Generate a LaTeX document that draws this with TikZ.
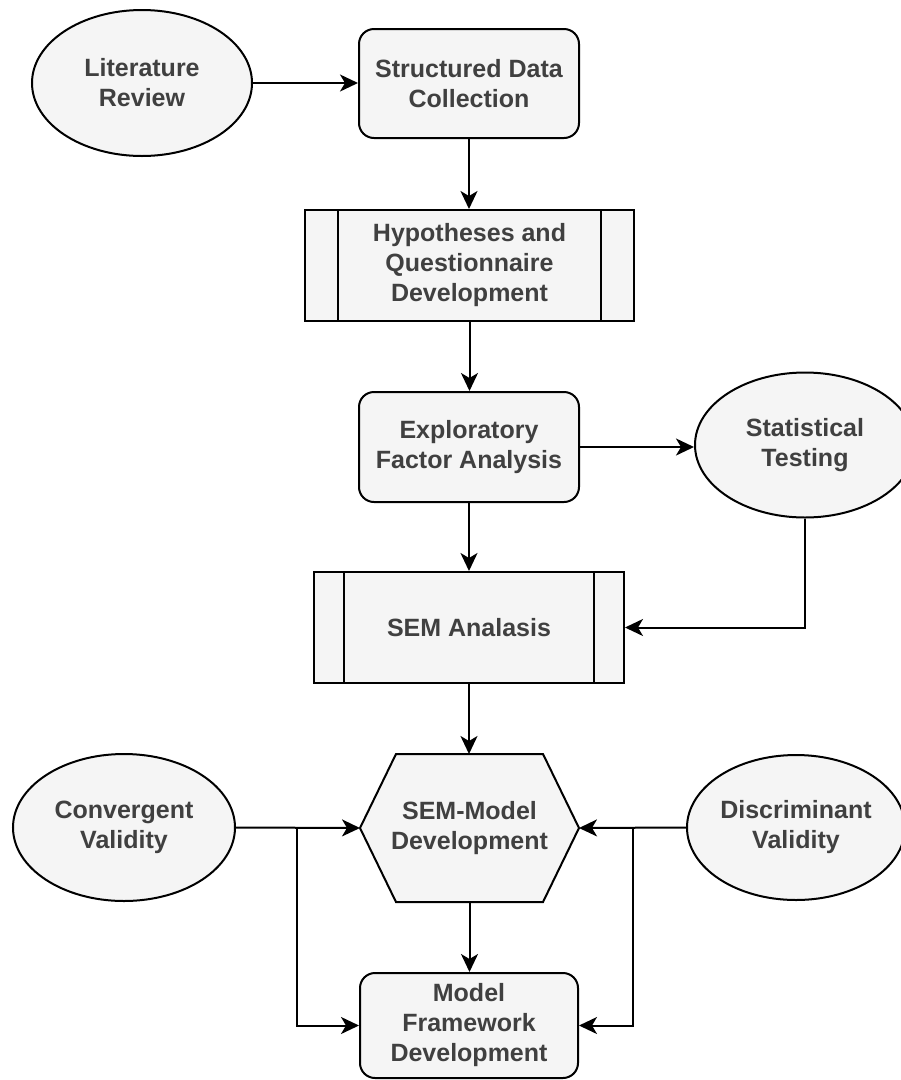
\documentclass[tikz,border=0pt]{standalone}
\usepackage{fontspec}
\setmainfont{Liberation Sans}
\usetikzlibrary{shapes.geometric,arrows.meta,backgrounds}
\definecolor{fillc}{HTML}{F5F5F5}
\definecolor{txtc}{HTML}{404040}
\begin{document}
\begin{tikzpicture}[x=1pt,y=-1pt,
  base/.style={draw=black, line width=2pt, fill=fillc, text=txtc,
    font=\fontsize{25}{30}\selectfont\bfseries, align=center, inner sep=0pt},
  rbox/.style={base, rectangle, rounded corners=15pt},
  oval/.style={base, ellipse},
  proc/.style={base, rectangle},
  arr/.style={line width=2pt, -{Stealth[length=18pt,width=17pt,inset=5pt]}},
  link/.style={line width=2pt}]

\useasboundingbox (0,0) rectangle (901,1080);

\node[oval, minimum width=220pt, minimum height=146pt] (lit) at (142,83) {Literature\\Review};
\node[rbox, minimum width=220pt, minimum height=109pt] (sdc) at (469,83.5) {Structured Data\\Collection};
\node[proc, minimum width=329pt, minimum height=111pt] (hyp) at (469.5,265.5) {Hypotheses and\\Questionnaire\\Development};
\draw[link] ([xshift=34pt]hyp.north west) -- ([xshift=34pt]hyp.south west);
\draw[link] ([xshift=-34pt]hyp.north east) -- ([xshift=-34pt]hyp.south east);
\node[rbox, minimum width=220pt, minimum height=110pt] (efa) at (469,447) {Exploratory\\Factor Analysis};
\node[oval, minimum width=220pt, minimum height=145pt] (stat) at (805,445) {Statistical\\Testing};
\node[proc, minimum width=310pt, minimum height=111pt] (sem) at (469,627.5) {SEM Analasis};
\draw[link] ([xshift=31pt]sem.north west) -- ([xshift=31pt]sem.south west);
\draw[link] ([xshift=-31pt]sem.north east) -- ([xshift=-31pt]sem.south east);
\node[base, draw=none, fill=none, minimum width=217pt, minimum height=146pt] (smd) at (469.5,828) {SEM-Model\\Development};
\node[rbox, minimum width=218pt, minimum height=105pt] (mfd) at (469,1025.5) {Model\\Framework\\Development};
\node[oval, minimum width=222pt, minimum height=147pt] (conv) at (124,827.5) {Convergent\\Validity};
\node[oval, minimum width=218pt, minimum height=145pt] (disc) at (796,827.5) {Discriminant\\Validity};

\begin{scope}[on background layer]
  \fill[white] (0,0) rectangle (901,1080);
  \draw[line width=2pt, fill=fillc, line join=miter]
    ([xshift=36pt]smd.north west) -- ([xshift=-36pt]smd.north east) -- (smd.east)
    -- ([xshift=-36pt]smd.south east) -- ([xshift=36pt]smd.south west) -- (smd.west) -- cycle;
\end{scope}

\coordinate (cb) at (297,827.5);
\coordinate (db) at (633,827.5);

\draw[arr] (lit.east) -- (lit.east -| sdc.west);
\draw[arr] (sdc.south) -- (sdc.south |- hyp.north);
\draw[arr] (hyp.south) -- (hyp.south |- efa.north);
\draw[arr] (efa.east) -- (efa.east -| stat.west);
\draw[arr] (efa.south) -- (efa.south |- sem.north);
\draw[arr] (stat.south) |- (sem.east);
\draw[arr] (sem.south) -- (sem.south |- smd.north);
\draw[arr] (smd.south) -- (smd.south |- mfd.north);
\draw[arr] (conv.east) -- (smd.west);
\draw[arr] (cb) |- (mfd.west);
\draw[arr] (disc.west) -- (smd.east);
\draw[arr] (db) |- (mfd.east);
\end{tikzpicture}
\end{document}
